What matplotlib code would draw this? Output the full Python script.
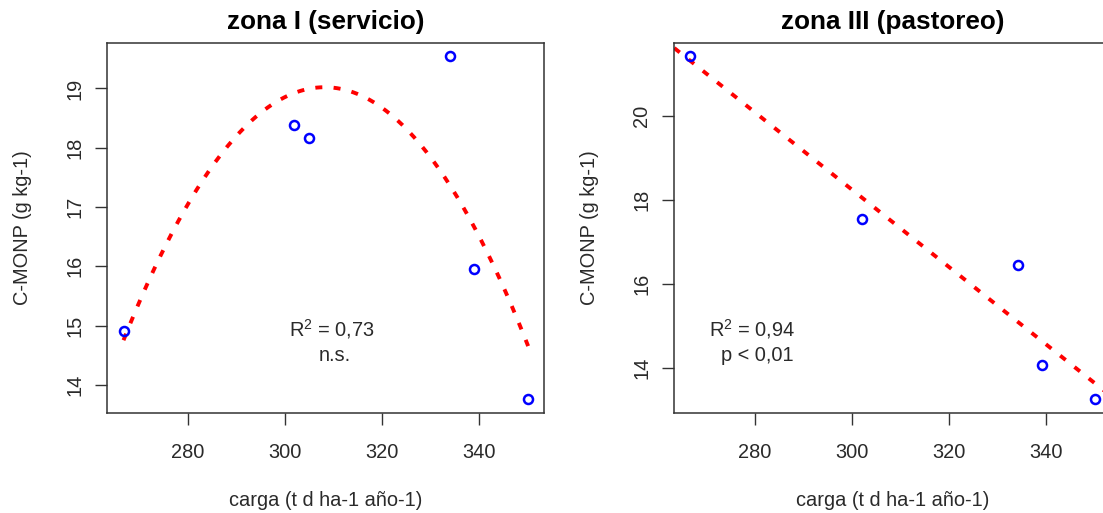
import numpy as np
import matplotlib
matplotlib.use("Agg")
import matplotlib.pyplot as plt

plt.rcParams["font.family"] = ["Liberation Sans", "DejaVu Sans"]
plt.rcParams["mathtext.fontset"] = "custom"
plt.rcParams["mathtext.rm"] = "Liberation Sans"

# zona I (servicio)
carga_1 = [266.8, 301.8, 305.0, 334.0, 338.9, 350.1]
cmonp_1 = [14.91, 18.39, 18.17, 19.54, 15.96, 13.76]
# quadratic fit curve
fit_x_1 = [266.7, 270.3, 279.9, 291.9, 308.0, 323.8, 334.7, 344.3, 349.4]
fit_y_1 = [14.70, 15.44, 17.07, 18.36, 19.03, 18.42, 17.18, 15.84, 14.80]

# zona III (pastoreo)
carga_3 = [266.8, 302.1, 334.1, 339.0, 350.0]
cmonp_3 = [21.41, 17.55, 16.45, 14.07, 13.27]

titles = ["zona I (servicio)", "zona III (pastoreo)"]
notes_1 = [r"R$^2$ = 0,73", "n.s."]
notes_3 = [r"R$^2$ = 0,94", "p < 0,01"]
xticks = [280, 300, 320, 340]
yticks_1 = [14, 15, 16, 17, 18, 19]
yticks_3 = [14, 16, 18, 20]

TXT = "#2a2a2a"
FS = 14.4
fig = plt.figure(figsize=(11.03, 5.13), dpi=100)
ax1 = fig.add_axes([0.0973, 0.1955, 0.3962, 0.7213])
ax3 = fig.add_axes([0.6113, 0.1955, 0.3962, 0.7213])


def style(ax, title, yticks):
    ax.set_title(title, fontsize=18.8, fontweight="bold", pad=10, color="black")
    ax.set_xlabel("carga (t d ha-1 año-1)", fontsize=FS, color=TXT, labelpad=21)
    ax.set_ylabel("C-MONP (g kg-1)", fontsize=FS, color=TXT, labelpad=24)
    ax.set_xticks(xticks)
    ax.set_yticks(yticks)
    ax.tick_params(direction="out", length=8.6, width=1, color="#333333",
                   labelsize=FS, labelcolor=TXT)
    ax.tick_params(axis="x", pad=13)
    ax.tick_params(axis="y", pad=8)
    for lab in ax.get_yticklabels():
        lab.set_rotation(90)
        lab.set_va("center")
    for sp in ax.spines.values():
        sp.set_color("#333333")
        sp.set_linewidth(1.1)


def padded(v):
    v = np.asarray(v)
    r = v.max() - v.min()
    return v.min() - 0.04 * r, v.max() + 0.04 * r


dash = (0, (1.8, 2.9))

# left panel: quadratic curve
c2 = np.polyfit(fit_x_1, fit_y_1, 2)
xs = np.linspace(min(carga_1), max(carga_1), 200)
ax1.plot(xs, np.polyval(c2, xs), color="#FF0000", lw=2.8, linestyle=dash, zorder=2)
ax1.plot(carga_1, cmonp_1, "o", ms=6.5, mfc="none", mec="#0000FF", mew=1.8, zorder=3)
ax1.set_xlim(*padded(carga_1))
ax1.set_ylim(*padded(cmonp_1))
ax1.text(309.7, 14.94, notes_1[0], ha="center", va="center", fontsize=FS, color=TXT)
ax1.text(310.3, 14.49, notes_1[1], ha="center", va="center", fontsize=FS, color=TXT)
style(ax1, titles[0], yticks_1)

# right panel: linear fit drawn across the full axis
c1 = np.polyfit(carga_3, cmonp_3, 1)
lo, hi = padded(carga_3)
ax3.set_xlim(lo, hi)
ax3.set_ylim(*padded(cmonp_3))
xl = np.array([lo, hi])
ax3.plot(xl, np.polyval(c1, xl), color="#FF0000", lw=2.8, linestyle=dash, zorder=2)
ax3.plot(carga_3, cmonp_3, "o", ms=6.5, mfc="none", mec="#0000FF", mew=1.8, zorder=3)
ax3.text(279.5, 14.93, notes_3[0], ha="center", va="center", fontsize=FS, color=TXT)
ax3.text(280.6, 14.31, notes_3[1], ha="center", va="center", fontsize=FS, color=TXT)
style(ax3, titles[1], yticks_3)

fig.savefig("out.png", dpi=100, facecolor="white")
